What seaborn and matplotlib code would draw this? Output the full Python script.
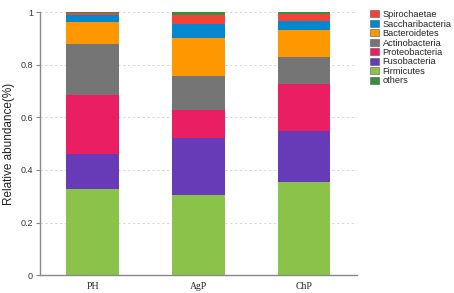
import numpy as np
import pandas as pd
import seaborn as sns
import matplotlib.pyplot as plt
from matplotlib.patches import Patch

groups = ['PH', 'AgP', 'ChP']
# bottom -> top
phyla = ['Firmicutes', 'Fusobacteria', 'Proteobacteria', 'Actinobacteria',
         'Bacteroidetes', 'Saccharibacteria', 'Spirochaetae', 'others']
firmicutes = [0.326, 0.304, 0.355]
fusobacteria = [0.135, 0.218, 0.194]
proteobacteria = [0.223, 0.105, 0.176]
actinobacteria = [0.195, 0.128, 0.103]
bacteroidetes = [0.084, 0.147, 0.102]
saccharibacteria = [0.026, 0.052, 0.036]
spirochaetae = [0.007, 0.036, 0.028]
others = [0.004, 0.010, 0.006]
colors = ['#8bc34a', '#673ab7', '#e91e63', '#757575',
          '#ff9800', '#0288d1', '#f44336', '#388e3c']
legend_order = ['Spirochaetae', 'Saccharibacteria', 'Bacteroidetes', 'Actinobacteria',
                'Proteobacteria', 'Fusobacteria', 'Firmicutes', 'others']

values = np.array([firmicutes, fusobacteria, proteobacteria, actinobacteria,
                   bacteroidetes, saccharibacteria, spirochaetae, others])
cum = np.cumsum(values, axis=0)

sns.set_style('white')
plt.rcParams['font.family'] = ['Liberation Sans', 'DejaVu Sans']

fig = plt.figure(figsize=(4.54, 2.93), dpi=100)
ax = fig.add_axes([0.088, 0.061, 0.698, 0.898])

# draw cumulative bars from the top layer down so they stack
for i in range(len(phyla) - 1, -1, -1):
    df = pd.DataFrame({'group': groups, 'value': cum[i]})
    sns.barplot(data=df, x='group', y='value', color=colors[i], width=0.5,
                saturation=1, linewidth=0, ax=ax)

ax.set_xlim(-0.5, 2.5)
ax.set_ylim(0, 1)
ax.set_yticks([0, 0.2, 0.4, 0.6, 0.8, 1.0])
ax.set_yticklabels(['0', '0.2', '0.4', '0.6', '0.8', '1'])
ax.yaxis.grid(True, linestyle=(0, (2.5, 2.5)), color='#d9d9d9', linewidth=0.7)
ax.set_axisbelow(True)

ax.set_xticks([-0.5, 0.5, 1.5, 2.5], minor=True)
ax.tick_params(axis='x', which='minor', length=3, color='#888888', width=0.8)
ax.tick_params(axis='x', which='major', length=0, pad=5)
ax.tick_params(axis='y', length=3, color='#888888', width=0.8, labelsize=6.5,
               labelcolor='#333333', pad=2, left=True)
for lab in ax.get_xticklabels():
    lab.set_family('Liberation Serif')
    lab.set_fontsize(7)
    lab.set_color('#222222')

ax.set_xlabel('')
ax.set_ylabel('Relative abundance(%)', fontsize=8.5, color='#222222', labelpad=4)

for side in ['top', 'right']:
    ax.spines[side].set_visible(False)
for side in ['left', 'bottom']:
    ax.spines[side].set_color('#888888')
    ax.spines[side].set_linewidth(1.0)

handles = [Patch(facecolor=colors[phyla.index(p)], edgecolor='#555555',
                 linewidth=0.4, label=p) for p in legend_order]
fig.legend(handles=handles, loc='upper left', bbox_to_anchor=(0.806, 0.978),
           frameon=False, fontsize=6.7, handlelength=1.0, handleheight=0.8,
           labelspacing=0.05, handletextpad=0.4, borderaxespad=0)

fig.savefig('out.png', dpi=100)
